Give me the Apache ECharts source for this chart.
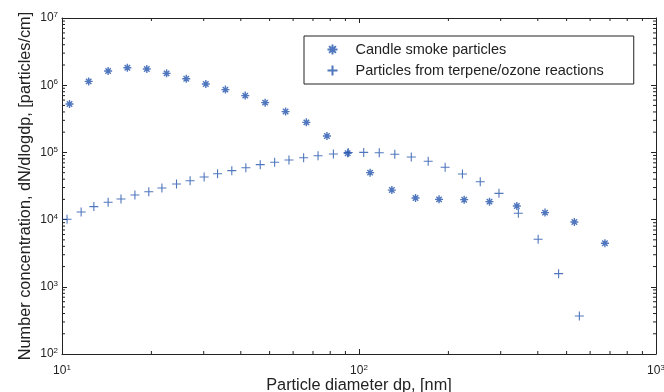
<!DOCTYPE html>
<html>
<head>
<meta charset="utf-8">
<script src="https://cdn.jsdelivr.net/npm/echarts@6/dist/echarts.min.js"></script>
<style>
  html, body { margin: 0; padding: 0; background: #fff; }
  #chart { width: 664px; height: 392px; }
</style>
</head>
<body>
<div id="chart"></div>
<script>
// particle diameter [nm] and number concentration
const candleX = [10.6, 12.3, 14.3, 16.6, 19.3, 22.5, 26.2, 30.5, 35.5, 41.4, 48.3, 56.6, 66.5, 78, 91.6,
    109, 129, 155, 186, 226, 275, 340, 423, 531, 673]
const candleY = [5.25e5, 1.14e6, 1.63e6, 1.82e6, 1.74e6, 1.50e6, 1.25e6, 1.04e6, 8.6e5, 7.0e5, 5.5e5, 4.05e5, 2.8e5, 1.75e5, 9.7e4,
    5.0e4, 2.75e4, 2.1e4, 2.0e4, 1.98e4, 1.85e4, 1.59e4, 1.27e4, 9.2e3, 4.45e3]

const terpX = [10.4, 11.6, 12.8, 14.3, 15.8, 17.6, 19.6, 21.7, 24.3, 27, 30.1, 33.4, 37.3, 41.6, 46.5, 52, 58.1,
    65.1, 72.8, 82, 92, 103.7, 117, 132, 150, 171, 195, 223, 256, 296, 344, 401, 470, 552]
const terpY = [1.01e4, 1.3e4, 1.56e4, 1.81e4, 2.03e4, 2.32e4, 2.6e4, 2.95e4, 3.39e4, 3.79e4, 4.3e4, 4.82e4, 5.35e4, 5.9e4, 6.57e4, 7.13e4, 7.7e4,
    8.34e4, 8.93e4, 9.46e4, 9.99e4, 1.0e5, 9.9e4, 9.38e4, 8.55e4, 7.37e4, 6.0e4, 4.78e4, 3.66e4, 2.46e4, 1.24e4, 5.1e3, 1.57e3, 367]

const seriesNames = ['Candle smoke particles', 'Particles from terpene/ozone reactions']

const xMin = 10, xMax = 1000
const yMin = 100, yMax = 1e7

const blue = '#2455ae'
const font = 'Liberation Sans'

// minor ticks at 2..9 of every decade
const minorTicks = (lo, hi) => {
    const out = []
    for (let d = lo; d < hi; d *= 10) {
        for (let k = 2; k <= 9; k++) out.push(d * k)
    }
    return out
}
const xMinor = minorTicks(xMin, xMax)
const yMinor = minorTicks(yMin, yMax)

const starPath = 'path://M0,5L10,5M5,0L5,10M1.6,1.6L8.4,8.4M1.6,8.4L8.4,1.6'
const plusPath = 'path://M0,5L10,5M5,0L5,10'

const powLabel = (v) => '{b|10}{s|' + Math.round(Math.log10(v)) + '}'
const labelRich = {
    b: { fontSize: 12, fontFamily: font, color: '#222', lineHeight: 14 },
    s: { fontSize: 8, fontFamily: font, color: '#222', lineHeight: 9, verticalAlign: 'top' }
}

const axisLine = { show: true, onZero: false, lineStyle: { color: '#222', width: 1 } }
const majorTick = { show: true, inside: true, length: 5, lineStyle: { color: '#222' } }

const chartDom = document.getElementById('chart')
const myChart = echarts.init(chartDom)

const option = {
    animation: false,
    grid: { left: 62, right: 8, top: 18, bottom: 38, outerBoundsMode: 'none' },
    legend: {
        data: seriesNames,
        orient: 'vertical',
        left: 304,
        top: 36,
        itemWidth: 10,
        itemHeight: 10,
        itemGap: 6,
        padding: [6, 30, 6, 21],
        borderColor: '#222',
        borderWidth: 1,
        backgroundColor: '#fff',
        textStyle: { fontFamily: font, fontSize: 14.5, color: '#222', padding: [0, 0, 0, 13] }
    },
    xAxis: [
        {
            type: 'log', logBase: 10, min: xMin, max: xMax,
            name: 'Particle diameter dp, [nm]',
            nameLocation: 'middle', nameGap: 24, nameMoveOverlap: false,
            nameTextStyle: { fontFamily: font, fontSize: 16.3, color: '#222' },
            axisLine, axisTick: majorTick,
            axisLabel: { formatter: powLabel, rich: labelRich, margin: 10 },
            splitLine: { show: false }
        },
        {
            type: 'log', logBase: 10, min: xMin, max: xMax, position: 'top',
            axisLine, axisTick: majorTick, axisLabel: { show: false }, splitLine: { show: false }
        }
    ],
    yAxis: [
        {
            type: 'log', logBase: 10, min: yMin, max: yMax,
            name: 'Number concentration, dN/dlogdp, [particles/cm]',
            nameLocation: 'middle', nameGap: 28, nameMoveOverlap: false,
            nameTextStyle: { fontFamily: font, fontSize: 16.3, color: '#222' },
            axisLine, axisTick: majorTick,
            axisLabel: { formatter: powLabel, rich: labelRich, margin: 4 },
            splitLine: { show: false }
        },
        {
            type: 'log', logBase: 10, min: yMin, max: yMax, position: 'right',
            axisLine, axisTick: majorTick, axisLabel: { show: false }, splitLine: { show: false }
        }
    ],
    series: [
        {
            name: seriesNames[0],
            type: 'scatter',
            symbol: starPath,
            symbolSize: 8,
            itemStyle: { color: 'none', borderColor: blue, borderWidth: 1.4 },
            data: candleX.map((x, i) => [x, candleY[i]])
        },
        {
            name: seriesNames[1],
            type: 'scatter',
            symbol: plusPath,
            symbolSize: 9,
            itemStyle: { color: 'none', borderColor: blue, borderWidth: 1.1 },
            data: terpX.map((x, i) => [x, terpY[i]])
        },
        {
            // minor ticks on bottom and top edges
            type: 'custom',
            silent: true,
            renderItem: (params, api) => {
                const v = api.value(0)
                const b = api.coord([v, yMin])
                const t = api.coord([v, yMax])
                const style = { stroke: '#222', lineWidth: 1 }
                return {
                    type: 'group',
                    children: [
                        { type: 'line', shape: { x1: b[0], y1: b[1], x2: b[0], y2: b[1] - 3 }, style },
                        { type: 'line', shape: { x1: t[0], y1: t[1], x2: t[0], y2: t[1] + 3 }, style }
                    ]
                }
            },
            data: xMinor.map(v => [v, yMin])
        },
        {
            // minor ticks on left and right edges
            type: 'custom',
            silent: true,
            renderItem: (params, api) => {
                const v = api.value(1)
                const l = api.coord([xMin, v])
                const r = api.coord([xMax, v])
                const style = { stroke: '#222', lineWidth: 1 }
                return {
                    type: 'group',
                    children: [
                        { type: 'line', shape: { x1: l[0], y1: l[1], x2: l[0] + 3, y2: l[1] }, style },
                        { type: 'line', shape: { x1: r[0], y1: r[1], x2: r[0] - 3, y2: r[1] }, style }
                    ]
                }
            },
            data: yMinor.map(v => [xMin, v])
        }
    ]
}
myChart.setOption(option)
</script>
</body>
</html>
